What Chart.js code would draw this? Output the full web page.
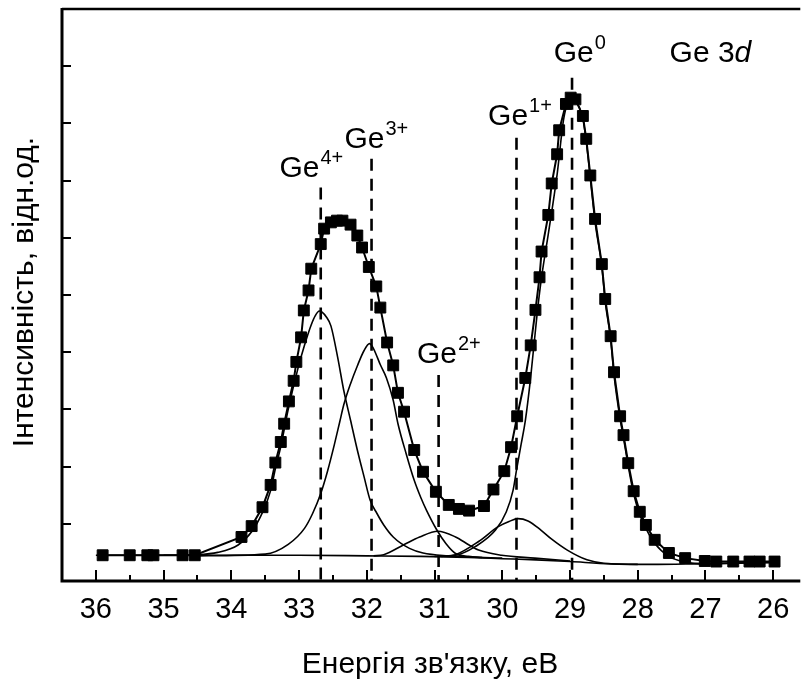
<!DOCTYPE html>
<html>
<head>
<meta charset="utf-8">
<script src="https://cdn.jsdelivr.net/npm/chart.js@4/dist/chart.umd.min.js"></script>
<style>
  html, body { margin: 0; padding: 0; background: #fff; overflow: hidden; }
  #wrap { width: 809px; height: 681px; }
</style>
</head>
<body>
<div id="wrap"><canvas id="c" width="809" height="681"></canvas></div>
<script>
/* === Ge 3d XPS spectrum === */

// ── Measured spectrum (binding energy, eV / intensity, arb. units) ──
const expE = [35.90, 35.50, 35.24, 35.15, 34.72, 34.54, 33.85, 33.70, 33.54, 33.42, 33.35, 33.27, 33.22, 33.15,
    33.08, 33.04, 32.97, 32.93, 32.86, 32.82, 32.68, 32.63, 32.53, 32.44, 32.36, 32.24, 32.14, 32.07, 31.97, 31.86,
    31.80, 31.70, 31.61, 31.54, 31.45, 31.30, 31.17, 30.98, 30.79, 30.64, 30.49, 30.27, 30.13, 29.97, 29.87, 29.78,
    29.66, 29.58, 29.51, 29.45, 29.42, 29.32, 29.27, 29.19, 29.16, 29.06, 28.99, 28.92, 28.81, 28.76, 28.70, 28.63,
    28.53, 28.48, 28.40, 28.35, 28.26, 28.21, 28.14, 28.06, 27.97, 27.88, 27.75, 27.54, 27.30, 27.01, 26.84, 26.59,
    26.35, 26.20, 25.98];
const expI = [0.45, 0.45, 0.45, 0.45, 0.45, 0.45, 0.77, 0.96, 1.29, 1.68, 2.07, 2.43, 2.75, 3.14,
    3.50, 3.83, 4.26, 4.73, 5.08, 5.46, 5.89, 6.16, 6.27, 6.30, 6.30, 6.23, 6.04, 5.83, 5.49, 5.15,
    4.78, 4.17, 3.77, 3.29, 2.96, 2.29, 1.91, 1.56, 1.33, 1.26, 1.23, 1.31, 1.60, 1.92, 2.34, 2.88,
    3.55, 4.12, 4.74, 5.31, 5.76, 6.40, 6.95, 7.46, 7.88, 8.34, 8.45, 8.42, 8.13, 7.73, 7.09, 6.33,
    5.54, 4.93, 4.28, 3.65, 2.88, 2.55, 2.06, 1.57, 1.21, 0.98, 0.72, 0.49, 0.40, 0.35, 0.34, 0.34,
    0.34, 0.34, 0.34];

// ── Fit components [E, I] ──
const bgLine = [[36.0, 0.45], [34.5, 0.45], [33.0, 0.45], [32.0, 0.44], [31.2, 0.43], [30.5, 0.41], [30.0, 0.39],
    [29.5, 0.37], [29.0, 0.34], [28.4, 0.30], [27.8, 0.29], [27.2, 0.30], [26.5, 0.32], [25.9, 0.33]];
const ge4 = [[35.0, 0.45], [34.5, 0.46], [34.2, 0.50], [33.9, 0.63], [33.7, 0.86], [33.54, 1.20], [33.42, 1.58],
    [33.35, 1.96], [33.27, 2.35], [33.16, 3.00], [33.02, 3.70], [32.92, 4.12], [32.82, 4.48], [32.76, 4.64],
    [32.70, 4.72], [32.66, 4.70], [32.60, 4.62], [32.53, 4.46], [32.43, 3.91], [32.34, 3.33], [32.24, 2.81],
    [32.14, 2.29], [32.04, 1.82], [31.95, 1.41], [31.85, 1.18], [31.75, 0.98], [31.61, 0.77], [31.37, 0.57],
    [31.17, 0.49], [30.8, 0.44], [30.3, 0.41]];
const ge3 = [[34.5, 0.44], [33.5, 0.47], [33.16, 0.64], [32.92, 0.92], [32.80, 1.18], [32.68, 1.53], [32.58, 1.92],
    [32.48, 2.38], [32.40, 2.78], [32.34, 3.08], [32.24, 3.45], [32.14, 3.76], [32.04, 4.03], [31.96, 4.15],
    [31.90, 4.06], [31.80, 3.78], [31.71, 3.55], [31.61, 3.16], [31.54, 2.75], [31.42, 2.23], [31.30, 1.76],
    [31.20, 1.45], [31.12, 1.24], [30.97, 0.90], [30.83, 0.65], [30.69, 0.48], [30.5, 0.43], [30.0, 0.40]];
const ge2 = [[31.9, 0.44], [31.75, 0.46], [31.46, 0.63], [31.22, 0.77], [30.95, 0.87], [30.69, 0.77], [30.49, 0.63],
    [30.35, 0.54], [30.01, 0.45], [29.52, 0.40], [29.0, 0.35]];
const ge1 = [[30.9, 0.43], [30.69, 0.46], [30.35, 0.69], [30.06, 0.95], [29.90, 1.04], [29.77, 1.09], [29.62, 1.05],
    [29.43, 0.89], [29.28, 0.74], [29.04, 0.54], [28.75, 0.37], [28.5, 0.31], [28.0, 0.29]];
const ge0 = [[31.0, 0.43], [30.69, 0.45], [30.40, 0.60], [30.10, 0.89], [29.94, 1.21], [29.84, 1.59], [29.79, 1.94],
    [29.72, 2.40], [29.66, 2.80], [29.58, 3.57], [29.48, 4.73], [29.42, 5.31], [29.32, 6.07], [29.19, 7.11],
    [29.09, 8.10], [28.99, 8.40], [28.92, 8.38], [28.81, 8.08], [28.76, 7.68], [28.70, 7.04], [28.63, 6.28],
    [28.53, 5.49], [28.48, 4.88], [28.40, 4.23], [28.35, 3.60], [28.26, 2.83], [28.21, 2.50], [28.14, 2.01],
    [28.06, 1.52], [27.97, 1.16], [27.88, 0.92], [27.75, 0.66], [27.54, 0.43], [27.30, 0.33], [27.0, 0.30],
    [26.5, 0.31], [26.0, 0.32]];

// ── Axis ticks ──
const xTicks = [36, 35, 34, 33, 32, 31, 30, 29, 28, 27, 26];
const xMinor = [35.5, 34.5, 33.5, 32.5, 31.5, 30.5, 29.5, 28.5, 27.5, 26.5];
const yTicks = [1, 2, 3, 4, 5, 6, 7, 8, 9];

// ── Peak markers (dashed lines) and labels ──
const markE = [32.68, 31.93, 30.94, 29.79, 28.97];
const markTop = [6.88, 7.38, 3.60, 7.75, 8.80];
const labelSup = ['4+', '3+', '2+', '1+', '0'];
const labelE = [33.29, 32.33, 31.26, 30.21, 29.24];   // left edge of label
const labelI = [7.06, 7.57, 3.81, 7.97, 9.07];        // baseline
const titleE = 27.53, titleI = 9.07;

const FONT = '"Liberation Sans", Arial, sans-serif';
const pts = arr => arr.map(([e, v]) => ({ x: e, y: v }));
const thin = d => ({ data: pts(d), borderColor: '#000', borderWidth: 1.6, pointRadius: 0,
    cubicInterpolationMode: 'monotone', fill: false });

const datasets = [bgLine, ge4, ge3, ge2, ge1, ge0].map(thin);
markE.forEach((e, i) => datasets.push({
    data: [{ x: e, y: markTop[i] }, { x: e, y: 0 }],
    borderColor: '#000', borderWidth: 2.6, borderDash: [12, 8], pointRadius: 0, fill: false,
}));
datasets.push({
    data: expE.map((e, i) => ({ x: e, y: expI[i] })),
    borderColor: '#000', borderWidth: 2, backgroundColor: '#000',
    pointStyle: 'rect', pointRadius: 7.7, pointBorderWidth: 1, fill: false,
});

// ── Frame, inward ticks, titles, peak labels ──
const frame = {
    id: 'frame',
    afterDraw(chart) {
        const { ctx, chartArea: a, scales: { x, y } } = chart;
        ctx.save();
        ctx.strokeStyle = '#000';
        ctx.fillStyle = '#000';
        ctx.lineWidth = 3;
        ctx.beginPath();
        ctx.moveTo(a.left, a.top - 1); ctx.lineTo(a.left, a.bottom); ctx.lineTo(a.right, a.bottom);
        ctx.stroke();
        ctx.lineWidth = 2.5;
        ctx.beginPath(); ctx.moveTo(a.left, a.top); ctx.lineTo(a.right, a.top); ctx.stroke();

        ctx.lineWidth = 2;
        ctx.beginPath();
        for (const v of xTicks) { const p = Math.round(x.getPixelForValue(v)); ctx.moveTo(p, a.bottom); ctx.lineTo(p, a.bottom - 11); }
        for (const v of xMinor) { const p = Math.round(x.getPixelForValue(v)); ctx.moveTo(p, a.bottom); ctx.lineTo(p, a.bottom - 6); }
        for (const v of yTicks) { const p = Math.round(y.getPixelForValue(v)); ctx.moveTo(a.left, p); ctx.lineTo(a.left + 9, p); }
        ctx.stroke();

        // axis titles
        ctx.font = `30px ${FONT}`;
        ctx.textAlign = 'center';
        ctx.textBaseline = 'alphabetic';
        ctx.fillText('Енергія зв\'язку, еВ', 430, 673);
        ctx.save();
        ctx.translate(33, 292);
        ctx.rotate(-Math.PI / 2);
        ctx.fillText('Інтенсивність, відн.од.', 0, 0);
        ctx.restore();

        // peak labels
        ctx.textAlign = 'left';
        labelE.forEach((e, i) => {
            const px = x.getPixelForValue(e), py = y.getPixelForValue(labelI[i]);
            ctx.font = `30px ${FONT}`;
            ctx.fillText('Ge', px, py);
            const w = ctx.measureText('Ge').width;
            ctx.font = `20px ${FONT}`;
            ctx.fillText(labelSup[i], px + w + 1, py - 13);
        });
        const tx = x.getPixelForValue(titleE), ty = y.getPixelForValue(titleI);
        ctx.font = `30px ${FONT}`;
        ctx.fillText('Ge 3', tx, ty);
        const w3 = ctx.measureText('Ge 3').width;
        ctx.font = `italic 30px ${FONT}`;
        ctx.fillText('d', tx + w3, ty);
        ctx.restore();
    }
};

new Chart(document.getElementById('c'), {
    type: 'line',
    data: { datasets },
    options: {
        responsive: false, animation: false, devicePixelRatio: 1,
        layout: { padding: { top: 9, right: 0, left: 0, bottom: 0 } },
        plugins: { legend: { display: false }, tooltip: { enabled: false } },
        scales: {
            x: {
                type: 'linear', reverse: true, min: 25.6, max: 36.5,
                grid: { display: false, drawTicks: false }, border: { display: false },
                afterBuildTicks: s => { s.ticks = xTicks.map(v => ({ value: v })); },
                afterFit: s => { s.height = 100; },
                ticks: { color: '#000', padding: 12, maxRotation: 0, autoSkip: false,
                    font: { family: FONT, size: 29 } },
            },
            y: {
                type: 'linear', min: 0, max: 10,
                grid: { display: false, drawTicks: false }, border: { display: false },
                ticks: { display: false },
                afterFit: s => { s.width = 62; },
            },
        },
    },
    plugins: [frame],
});
</script>
</body>
</html>
